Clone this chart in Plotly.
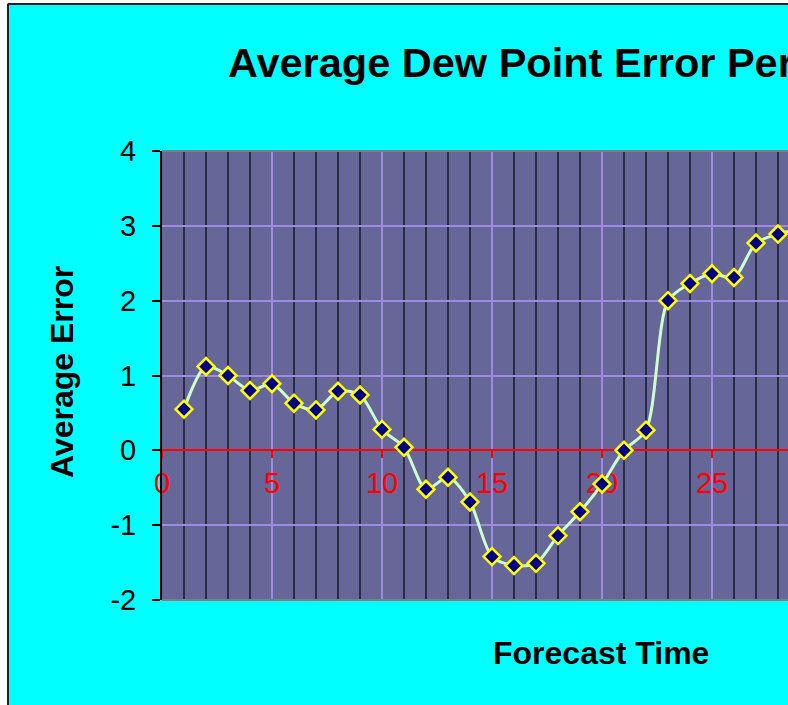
import plotly.graph_objects as go

# ---- data ----
forecast_time = [1, 2, 3, 4, 5, 6, 7, 8, 9, 10, 11, 12, 13, 14, 15,
                 16, 17, 18, 19, 20, 21, 22, 23, 24, 25, 26, 27, 28, 29]
average_error = [0.55, 1.12, 1.00, 0.80, 0.89, 0.63, 0.54, 0.79, 0.74, 0.28,
                 0.04, -0.52, -0.36, -0.69, -1.42, -1.54, -1.51, -1.14, -0.82,
                 -0.45, 0.00, 0.27, 2.00, 2.23, 2.36, 2.31, 2.77, 2.89, 2.96]
x_tick_vals = [0, 5, 10, 15, 20, 25, 30]
x_tick_text = ["0", "5", "10", "15", "20", "25", "30"]
y_tick_vals = [-2, -1, 0, 1, 2, 3, 4]
y_tick_text = ["-2", "-1", "0", "1", "2", "3", "4"]

W, H = 788, 705


def px(sx):
    return sx / W


def py(sy):
    return 1 - sy / H


PLOT_L, PLOT_T, PLOT_B = 162, 151, 600      # pixel edges of the plot area
Y_MIN, Y_MAX = -2, 4
X_MIN = 0
X_MAX = (W - PLOT_L) / 22.0                 # chart is cropped at right edge

ydom = [py(PLOT_B), py(PLOT_T)]
xdom = [px(PLOT_L), 1.0]
zero_pos = ydom[0] + (0 - Y_MIN) / (Y_MAX - Y_MIN) * (ydom[1] - ydom[0])

FONT = "Liberation Sans, Arial, sans-serif"
LAVENDER = "#A08AE0"

fig = go.Figure()
fig.add_trace(go.Scatter(
    x=forecast_time, y=average_error,
    mode="lines+markers",
    line=dict(color="#CCFFCC", width=3, shape="spline", smoothing=0.8),
    marker=dict(symbol="diamond", size=13, color="#000080",
                line=dict(color="#FFFF00", width=2.5)),
    showlegend=False,
))

fig.update_layout(
    width=W, height=H,
    margin=dict(l=0, r=0, t=0, b=0, autoexpand=False),
    paper_bgcolor="#00FFFF",
    plot_bgcolor="#666699",
    font=dict(family=FONT, color="black"),
    title=dict(text="<b>Average Dew Point Error Per</b>",
               x=px(228), xanchor="left", xref="paper",
               y=py(62), yanchor="middle", yref="paper", automargin=False,
               font=dict(size=41.5, family=FONT, color="black")),
    xaxis=dict(
        domain=xdom, range=[X_MIN, X_MAX], automargin=False,
        anchor="free", position=zero_pos,
        tickmode="array", tickvals=x_tick_vals, ticktext=x_tick_text,
        tickfont=dict(size=29, color="red", family=FONT),
        ticks="outside", ticklen=7, tickwidth=1.5, tickcolor="red",
        showline=True, linecolor="red", linewidth=1.5,
        showgrid=True, gridcolor=LAVENDER, gridwidth=1.5,
        minor=dict(dtick=1, showgrid=True, gridcolor="#2B2B45", gridwidth=2,
                   ticks=""),
        zeroline=False, layer="below traces",
    ),
    yaxis=dict(
        domain=ydom, range=[Y_MIN, Y_MAX], automargin=False,
        tickmode="array", tickvals=y_tick_vals, ticktext=y_tick_text,
        tickfont=dict(size=29, color="black", family=FONT),
        ticks="outside", ticklen=8, tickwidth=2, tickcolor="black",
        ticklabelstandoff=10,
        showline=True, linecolor="black", linewidth=2,
        showgrid=True, gridcolor=LAVENDER, gridwidth=1.5,
        zeroline=False,
    ),
    annotations=[
        dict(text="<b>Forecast Time</b>", x=px(601), y=py(653),
             xref="paper", yref="paper", xanchor="center", yanchor="middle",
             showarrow=False, font=dict(size=32, family=FONT, color="black")),
        dict(text="<b>Average Error</b>", x=px(62), y=py(372),
             xref="paper", yref="paper", xanchor="center", yanchor="middle",
             textangle=-90, showarrow=False,
             font=dict(size=32, family=FONT, color="black")),
    ],
    shapes=[
        # grey frame lines at top and bottom of the plot area
        dict(type="line", xref="x domain", yref="y domain", x0=0, x1=1, y0=1, y1=1,
             line=dict(color="#808080", width=2)),
        dict(type="line", xref="x domain", yref="y domain", x0=0, x1=1, y0=0, y1=0,
             line=dict(color="#808080", width=2)),
        # white surround outside the chart's outer border
        dict(type="rect", xref="paper", yref="paper", x0=0, x1=px(7), y0=0, y1=1,
             fillcolor="white", line=dict(width=0), layer="below"),
        dict(type="rect", xref="paper", yref="paper", x0=0, x1=1, y0=py(3), y1=1,
             fillcolor="white", line=dict(width=0), layer="below"),
        # outer chart border (left and top)
        dict(type="line", xref="paper", yref="paper", x0=px(8), x1=px(8), y0=0, y1=py(4),
             line=dict(color="#202020", width=2)),
        dict(type="line", xref="paper", yref="paper", x0=px(8), x1=1, y0=py(4), y1=py(4),
             line=dict(color="#202020", width=2)),
    ],
)

fig.write_html(
    "out.html",
    config={"displayModeBar": False},
    post_script="document.body.style.margin='0';document.body.style.overflow='hidden';",
)
